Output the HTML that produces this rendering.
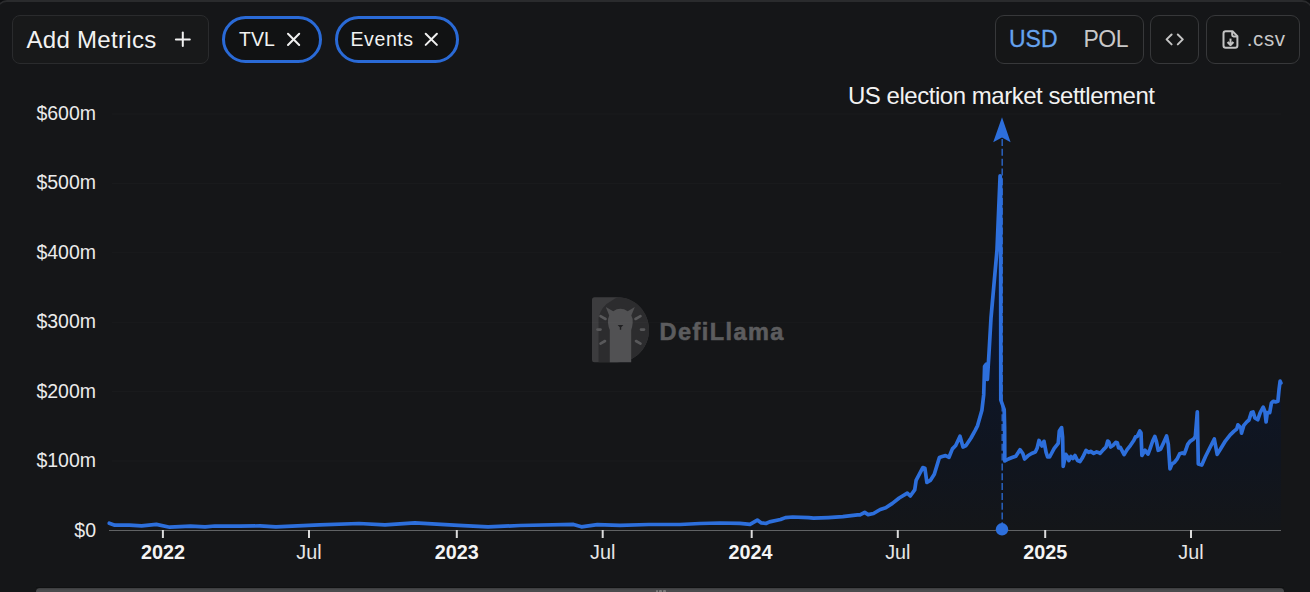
<!DOCTYPE html>
<html><head><meta charset="utf-8">
<style>
*{box-sizing:border-box;margin:0;padding:0}
html,body{width:1310px;height:592px;overflow:hidden;background:#0e0f11}
body{position:relative;font-family:"Liberation Sans",sans-serif;color:#f2f2f2}
.card{position:absolute;left:-3px;top:0;width:1315px;height:640px;border:1px solid #2a2b2d;border-top:2px solid #2a2b2d;border-radius:10px;background:#151618}
.abs{position:absolute}
.btn{position:absolute;border:1.5px solid #2a2b2d;border-radius:8px;background:#18191a}
.btn2{position:absolute;border:1.5px solid #37383a;border-radius:9px;background:#151617}
.pill{position:absolute;border:3.4px solid #2a6ad6;border-radius:30px;background:#111213}
.t{position:absolute;white-space:nowrap;line-height:1}
.yl{position:absolute;right:1214px;font-size:19.5px;line-height:22px;color:#ebebeb;white-space:nowrap;text-align:right}
.xl{position:absolute;top:540.8px;width:80px;text-align:center;font-size:19.8px;line-height:22px;color:#e6e6e6}
.xl.b{font-weight:bold;color:#f4f4f4}
svg{position:absolute;left:0;top:0}
</style></head><body>
<div class="card"></div>

<!-- Add Metrics -->
<div class="btn" style="left:12px;top:15px;width:197px;height:49px"></div>
<div class="t" style="left:26.5px;top:28px;font-size:24px;letter-spacing:0.3px;color:#f2f2f2">Add Metrics</div>
<svg width="1310" height="592" style="pointer-events:none">
  <g stroke="#f0f0f0" stroke-width="2" fill="none" stroke-linecap="round">
    <line x1="175.9" y1="39.4" x2="189.8" y2="39.4"/>
    <line x1="182.8" y1="32.6" x2="182.8" y2="46.1"/>
  </g>
</svg>

<!-- TVL pill -->
<div class="pill" style="left:222px;top:16.3px;width:99.5px;height:46.6px"></div>
<div class="t" style="left:239px;top:29.9px;font-size:19.5px;color:#f2f2f2">TVL</div>
<svg width="1310" height="592"><g stroke="#f0f0f0" stroke-width="2" fill="none" stroke-linecap="round">
  <line x1="288" y1="33.8" x2="299.2" y2="45"/><line x1="299.2" y1="33.8" x2="288" y2="45"/>
</g></svg>

<!-- Events pill -->
<div class="pill" style="left:334.5px;top:16.3px;width:124.5px;height:46.4px"></div>
<div class="t" style="left:350.5px;top:29.9px;font-size:19.5px;letter-spacing:0.6px;color:#f2f2f2">Events</div>
<svg width="1310" height="592"><g stroke="#f0f0f0" stroke-width="2" fill="none" stroke-linecap="round">
  <line x1="425.7" y1="33.7" x2="436.9" y2="44.9"/><line x1="436.9" y1="33.7" x2="425.7" y2="44.9"/>
</g></svg>

<!-- USD / POL -->
<div class="btn2" style="left:994.5px;top:15px;width:149px;height:49px"></div>
<div class="t" style="left:1009px;top:28.3px;font-size:23px;color:#66a3ee;-webkit-text-stroke:0.3px #66a3ee">USD</div>
<div class="t" style="left:1083.5px;top:28.3px;font-size:23px;letter-spacing:-0.5px;color:#c8c8c8">POL</div>

<!-- embed -->
<div class="btn2" style="left:1150px;top:15px;width:49px;height:49px"></div>
<svg width="1310" height="592"><g stroke="#c4c4c4" stroke-width="2" fill="none" stroke-linejoin="round" stroke-linecap="round">
  <polyline points="1171.6,34.5 1166.6,39.4 1171.6,44.4"/>
  <polyline points="1177.8,34.5 1182.8,39.4 1177.8,44.4"/>
</g></svg>

<!-- csv -->
<div class="btn2" style="left:1206px;top:15px;width:94px;height:49px"></div>
<svg width="1310" height="592"><g stroke="#c4c4c4" stroke-width="2" fill="none" stroke-linejoin="round">
  <path d="M1226 31.2 H1232.5 L1237.4 36.1 V45.6 Q1237.4 47.8 1235.2 47.8 H1225.7 Q1223.5 47.8 1223.5 45.6 V33.4 Q1223.5 31.2 1225.7 31.2 Z"/>
  <path d="M1232.2 31.5 V35 Q1232.2 36.4 1233.6 36.4 H1237"/>
  <line x1="1230.5" y1="38.6" x2="1230.5" y2="44.8"/>
  <polyline points="1227.6,42 1230.5,44.9 1233.4,42" stroke-width="2.3"/>
</g></svg>
<div class="t" style="left:1246.8px;top:29px;font-size:20.5px;letter-spacing:0.6px;color:#c8c8c8">.csv</div>

<!-- watermark -->
<svg width="1310" height="592">
  <path d="M594.5 297.3 H617 C636 297.3 649 313 649 330 C649 347 636 362.3 617 362.3 H594.5 Q592 362.3 592 359.8 V299.8 Q592 297.3 594.5 297.3 Z" fill="#3c3c3e"/>
  <path d="M598.5 362.3 V318 Q601 306 612 300.5 Q615 298 618 297.3 C636 297.3 649 313 649 330 C649 347 636 362.3 617 362.3 Z" fill="#2c2c2e"/>
  <path d="M609.2 315.5 L605.8 307 L613.2 311.2 Q620.3 306.5 627.7 311.2 L634.8 307 L631.3 315.5 Q633.4 319 632.7 323 Q632.3 327 631.2 330 V362.3 H609.8 V330 Q608.4 327 608 323 Q607.4 319 609.2 315.5 Z" fill="#515153"/>
  <path d="M617.6 325 H623.4 L621.2 327.2 V329.8 H619.8 V327.2 Z" fill="#202022"/>
  <g stroke="#58585a" stroke-width="2.6" stroke-linecap="round">
    <line x1="600.5" y1="316.2" x2="605.5" y2="319"/><line x1="597.5" y1="329.6" x2="600.5" y2="329.6"/><line x1="600.5" y1="343.6" x2="605" y2="341"/>
    <line x1="640.5" y1="316.2" x2="635.5" y2="319"/><line x1="644" y1="329.6" x2="641" y2="329.6"/><line x1="640.5" y1="343.6" x2="636" y2="341"/>
  </g>
</svg>
<div class="t" style="left:659.5px;top:320.6px;font-size:23.5px;font-weight:bold;letter-spacing:1.45px;color:#5c5c5e;-webkit-text-stroke:0.6px #5c5c5e">DefiLlama</div>

<!-- chart -->
<svg width="1310" height="592">
  <defs>
    <linearGradient id="ag2" x1="0" y1="175" x2="0" y2="530" gradientUnits="userSpaceOnUse">
      <stop offset="0" stop-color="#0b1a38"/>
      <stop offset="0.55" stop-color="#0e1628"/>
      <stop offset="0.8" stop-color="#10151f"/>
      <stop offset="1" stop-color="#141619"/>
    </linearGradient>
  </defs>
  <g stroke="#ffffff" stroke-opacity="0.022" stroke-width="1" fill="none"><line x1="112" x2="1281" y1="114.00" y2="114.00"/><line x1="112" x2="1281" y1="183.40" y2="183.40"/><line x1="112" x2="1281" y1="252.80" y2="252.80"/><line x1="112" x2="1281" y1="322.20" y2="322.20"/><line x1="112" x2="1281" y1="391.60" y2="391.60"/><line x1="112" x2="1281" y1="461.00" y2="461.00"/></g>
  <path d="M109.3 523.2 L114.8 525.2 L129.4 525.2 L141.6 525.8 L156.3 524.4 L169.7 527.2 L190.5 526.2 L205.1 526.8 L214.9 526 L239.3 526.2 L260 525.9 L275.9 526.9 L319.5 524.9 L359 523.5 L385 524.9 L414.8 522.9 L458.4 525.3 L488 526.9 L520 525.5 L573.5 524.4 L581.4 526.8 L597.3 524.6 L620 525.3 L648.9 524.5 L680 524.5 L700 523.5 L720 523 L740 523.4 L750 524.3 L757.3 520.1 L761 522.8 L765.9 523.5 L769.5 521.9 L780.5 519.5 L785.4 517.6 L792.7 517 L808.6 517.6 L813.5 518.2 L828.2 517.6 L842.8 516.7 L857.5 514.9 L860 514.9 L864.7 512.4 L868.1 514.6 L873.5 513.5 L880.3 509.5 L885.7 507.8 L892.4 503.4 L899.2 498 L907.3 493.2 L910.3 496 L914.7 489.9 L916.1 480.4 L922.8 467.6 L924.9 468.2 L926.9 482.4 L930.3 480.4 L934.3 474.3 L939.4 457.5 L942.2 456.5 L945.6 455.6 L949 457.3 L952.4 448.9 L955.7 445.5 L960 436.3 L963 447 L966 445.5 L971 438 L975.2 430.3 L977.6 425.6 L981.9 410.2 L983.7 394.9 L984.6 366.3 L986.3 364.1 L987.4 379.5 L989 353.2 L991 318 L997 250 L1000.1 175.8 L1000.6 180 L1000.8 400 L1004.2 409.5 L1004.6 427 L1004.8 461 L1008.4 459 L1012.1 457.6 L1015.8 456.2 L1020 449.7 L1022.8 453.5 L1024.6 459 L1027.9 455.8 L1031.6 453.5 L1035.3 452.1 L1037.2 447.9 L1039 440.5 L1042 446 L1044 441.3 L1046.1 452.4 L1047.6 457 L1049.6 457 L1054.2 448.4 L1058.2 443.3 L1059.3 431.1 L1061.6 427.6 L1062.6 437.2 L1063.2 466.4 L1065.8 454.4 L1067.4 456.5 L1068.9 460.5 L1070.9 456.5 L1072.9 458.5 L1075 455.5 L1077.5 460.5 L1080 461.5 L1082.6 457.5 L1086.1 450.4 L1088.6 452.4 L1090.7 451.4 L1093.7 453.4 L1096.7 451.9 L1100 452.9 L1100.1 453.4 L1103.4 449.6 L1106 447 L1107.7 441.1 L1108.9 442 L1110.6 447 L1113.2 445.3 L1115.7 442.4 L1117.4 442.8 L1118.6 447.9 L1120.3 447.4 L1124.1 454.6 L1127.1 449.6 L1130.5 445.3 L1133.9 440.3 L1135.5 436.9 L1137.2 436.5 L1139.8 431 L1141 432.7 L1141.9 455.5 L1145.1 450.3 L1146.3 452 L1148 454.1 L1150.1 448.6 L1152.7 441 L1154.8 436.4 L1156.5 441.9 L1158.2 450.3 L1160.7 449.1 L1163.6 442.7 L1166.6 436 L1168.3 444.4 L1170 468.9 L1172.1 463.9 L1174.6 462.2 L1177.2 458.8 L1179.7 453.7 L1182.2 452.9 L1184.3 453.7 L1186 449.5 L1187.7 444.4 L1190 441.4 L1193.6 439 L1195.3 436.7 L1197.3 411.8 L1198.3 463.9 L1201.8 465.1 L1205.4 456.8 L1209.5 448.5 L1214.3 439 L1217.2 454.4 L1220.8 448.5 L1225.5 440.8 L1230.2 434.9 L1233.8 431.4 L1236.7 429 L1237.9 424.9 L1240.9 427.8 L1241.5 433.1 L1243.8 425.4 L1246.8 421.9 L1249 420 L1251.3 412.6 L1253.1 412 L1254.9 417.9 L1257.8 419.7 L1260.2 412.6 L1263.2 407.2 L1264.9 411.4 L1266.1 422 L1267.3 412.6 L1269.7 412.6 L1271.4 403.1 L1273.2 401.3 L1275.6 401.9 L1277.9 401.3 L1279.1 388.9 L1280.1 381.2 L1280.9 383 L1280.9 530.3 L109.3 530.3 Z" fill="url(#ag2)" stroke="none"/>
  <line x1="109" x2="1281" y1="530.5" y2="530.5" stroke="#606264" stroke-width="1.2"/>
  <g stroke="#dcdcdc" stroke-width="2"><line x1="162.9" x2="162.9" y1="530" y2="538"/><line x1="309.0" x2="309.0" y1="530" y2="538"/><line x1="456.8" x2="456.8" y1="530" y2="538"/><line x1="602.7" x2="602.7" y1="530" y2="538"/><line x1="751.7" x2="751.7" y1="530" y2="538"/><line x1="897.8" x2="897.8" y1="530" y2="538"/><line x1="1045.2" x2="1045.2" y1="530" y2="538"/><line x1="1191.0" x2="1191.0" y1="530" y2="538"/></g>
  <path d="M109.3 523.2 L114.8 525.2 L129.4 525.2 L141.6 525.8 L156.3 524.4 L169.7 527.2 L190.5 526.2 L205.1 526.8 L214.9 526 L239.3 526.2 L260 525.9 L275.9 526.9 L319.5 524.9 L359 523.5 L385 524.9 L414.8 522.9 L458.4 525.3 L488 526.9 L520 525.5 L573.5 524.4 L581.4 526.8 L597.3 524.6 L620 525.3 L648.9 524.5 L680 524.5 L700 523.5 L720 523 L740 523.4 L750 524.3 L757.3 520.1 L761 522.8 L765.9 523.5 L769.5 521.9 L780.5 519.5 L785.4 517.6 L792.7 517 L808.6 517.6 L813.5 518.2 L828.2 517.6 L842.8 516.7 L857.5 514.9 L860 514.9 L864.7 512.4 L868.1 514.6 L873.5 513.5 L880.3 509.5 L885.7 507.8 L892.4 503.4 L899.2 498 L907.3 493.2 L910.3 496 L914.7 489.9 L916.1 480.4 L922.8 467.6 L924.9 468.2 L926.9 482.4 L930.3 480.4 L934.3 474.3 L939.4 457.5 L942.2 456.5 L945.6 455.6 L949 457.3 L952.4 448.9 L955.7 445.5 L960 436.3 L963 447 L966 445.5 L971 438 L975.2 430.3 L977.6 425.6 L981.9 410.2 L983.7 394.9 L984.6 366.3 L986.3 364.1 L987.4 379.5 L989 353.2 L991 318 L997 250 L1000.1 175.8 L1000.6 180 L1000.8 400 L1004.2 409.5 L1004.6 427 L1004.8 461 L1008.4 459 L1012.1 457.6 L1015.8 456.2 L1020 449.7 L1022.8 453.5 L1024.6 459 L1027.9 455.8 L1031.6 453.5 L1035.3 452.1 L1037.2 447.9 L1039 440.5 L1042 446 L1044 441.3 L1046.1 452.4 L1047.6 457 L1049.6 457 L1054.2 448.4 L1058.2 443.3 L1059.3 431.1 L1061.6 427.6 L1062.6 437.2 L1063.2 466.4 L1065.8 454.4 L1067.4 456.5 L1068.9 460.5 L1070.9 456.5 L1072.9 458.5 L1075 455.5 L1077.5 460.5 L1080 461.5 L1082.6 457.5 L1086.1 450.4 L1088.6 452.4 L1090.7 451.4 L1093.7 453.4 L1096.7 451.9 L1100 452.9 L1100.1 453.4 L1103.4 449.6 L1106 447 L1107.7 441.1 L1108.9 442 L1110.6 447 L1113.2 445.3 L1115.7 442.4 L1117.4 442.8 L1118.6 447.9 L1120.3 447.4 L1124.1 454.6 L1127.1 449.6 L1130.5 445.3 L1133.9 440.3 L1135.5 436.9 L1137.2 436.5 L1139.8 431 L1141 432.7 L1141.9 455.5 L1145.1 450.3 L1146.3 452 L1148 454.1 L1150.1 448.6 L1152.7 441 L1154.8 436.4 L1156.5 441.9 L1158.2 450.3 L1160.7 449.1 L1163.6 442.7 L1166.6 436 L1168.3 444.4 L1170 468.9 L1172.1 463.9 L1174.6 462.2 L1177.2 458.8 L1179.7 453.7 L1182.2 452.9 L1184.3 453.7 L1186 449.5 L1187.7 444.4 L1190 441.4 L1193.6 439 L1195.3 436.7 L1197.3 411.8 L1198.3 463.9 L1201.8 465.1 L1205.4 456.8 L1209.5 448.5 L1214.3 439 L1217.2 454.4 L1220.8 448.5 L1225.5 440.8 L1230.2 434.9 L1233.8 431.4 L1236.7 429 L1237.9 424.9 L1240.9 427.8 L1241.5 433.1 L1243.8 425.4 L1246.8 421.9 L1249 420 L1251.3 412.6 L1253.1 412 L1254.9 417.9 L1257.8 419.7 L1260.2 412.6 L1263.2 407.2 L1264.9 411.4 L1266.1 422 L1267.3 412.6 L1269.7 412.6 L1271.4 403.1 L1273.2 401.3 L1275.6 401.9 L1277.9 401.3 L1279.1 388.9 L1280.1 381.2 L1280.9 383" fill="none" stroke="#2d6fdc" stroke-width="3.7" stroke-linejoin="round" stroke-linecap="round"/>
  <line x1="1002.2" x2="1002.2" y1="139" y2="524" stroke="#2d6fdc" stroke-opacity="0.85" stroke-width="1.5" stroke-dasharray="7 2.83"/>
  <path d="M1002 117.2 L1010.6 142.2 L1002 137.6 L993.2 142.2 Z" fill="#2d6fdc"/>
  <circle cx="1002" cy="529.3" r="6.2" fill="#2d6fdc"/>
</svg>
<div class="yl" style="top:101.70px">$600m</div><div class="yl" style="top:171.17px">$500m</div><div class="yl" style="top:240.64px">$400m</div><div class="yl" style="top:310.11px">$300m</div><div class="yl" style="top:379.58px">$200m</div><div class="yl" style="top:449.05px">$100m</div><div class="yl" style="top:518.52px">$0</div>
<div class="xl b" style="left:122.9px">2022</div><div class="xl" style="left:269.0px">Jul</div><div class="xl b" style="left:416.8px">2023</div><div class="xl" style="left:562.7px">Jul</div><div class="xl b" style="left:710.5px">2024</div><div class="xl" style="left:857.8px">Jul</div><div class="xl b" style="left:1005.2px">2025</div><div class="xl" style="left:1151.0px">Jul</div>
<div class="t" style="left:848px;top:84.3px;font-size:24px;letter-spacing:-0.47px;color:#f2f2f2">US election market settlement</div>

<!-- bottom slider -->
<div class="abs" style="left:36px;top:587px;width:1248px;height:1px;background:#101112"></div>
<div class="abs" style="left:36px;top:588px;width:1248px;height:10px;background:linear-gradient(#3a3b3d,#4a4b4d 2px);border-radius:4px"></div>
<div class="abs" style="left:655.5px;top:590px;width:2.5px;height:3px;background:#7a7a7a;border-radius:1px"></div>
<div class="abs" style="left:659.2px;top:590px;width:2.5px;height:3px;background:#7a7a7a;border-radius:1px"></div>
<div class="abs" style="left:663px;top:590px;width:2.5px;height:3px;background:#7a7a7a;border-radius:1px"></div>
</body></html>
